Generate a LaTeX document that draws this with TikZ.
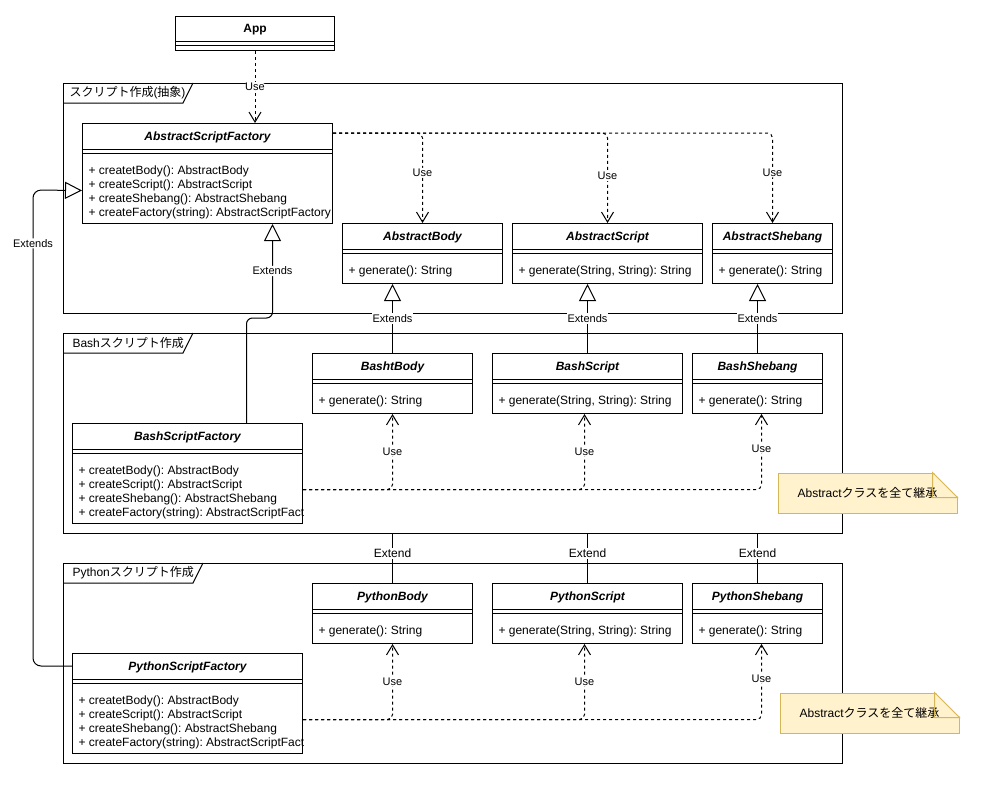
\documentclass[tikz,border=0pt]{standalone}
\usepackage{fontspec}
\setmainfont{Liberation Sans}
\newfontfamily\jpfont{Noto Sans CJK JP}
\frenchspacing
\usetikzlibrary{arrows.meta}

\definecolor{notefill}{HTML}{FFF2CC}
\definecolor{noteline}{HTML}{D6B656}

% class box: name, x, y, width, height, title, members
\newcommand{\umlclass}[7]{%
  \node[cls, minimum width=#4pt, minimum height=#5pt, anchor=north west] (#1) at (#2,#3) {};
  \node[clsname] (#1-name) at ([yshift=-17pt]#1.north) {#6};
  \draw ([yshift=-26pt]#1.north west) -- ([yshift=-26pt]#1.north east);
  \draw ([yshift=-30pt]#1.north west) -- ([yshift=-30pt]#1.north east);
  \begin{scope}
    \clip (#1.north west) rectangle (#1.south east);
    \node[members] (#1-ops) at ([xshift=6pt,yshift=-41pt]#1.north west) {\rule{0pt}{10pt}#7};
  \end{scope}
}

\begin{document}
\begin{tikzpicture}[x=1pt, y=-1pt, line width=1pt,
  cls/.style={draw, fill=white, inner sep=0pt},
  clsname/.style={anchor=base, inner sep=0pt, font=\fontsize{12}{14}\selectfont\bfseries\itshape},
  members/.style={anchor=north west, inner sep=0pt, align=left, font=\fontsize{12}{14}\selectfont},
  frame/.style={draw, inner sep=0pt, anchor=north west},
  tab/.style={anchor=west, inner sep=0pt, font=\fontsize{12}{14}\selectfont},
  lbl/.style={fill=white, inner sep=1pt, font=\fontsize{11}{13}\selectfont},
  lblb/.style={fill=white, inner sep=1pt, font=\fontsize{12}{14}\selectfont},
  use/.style={dash pattern=on 3pt off 3pt, rounded corners=5pt, -{Straight Barb[length=10pt,width=12pt]}},
  ext/.style={-{Triangle[length=17pt,width=17pt,fill=white]}},
  note/.style={draw=noteline, fill=notefill, inner sep=0pt, font=\fontsize{12}{14}\selectfont}]
  \useasboundingbox (0,0) rectangle (987,784);

  % frames
  \node[frame, minimum width=779pt, minimum height=230pt] (fabs) at (63,83) {};
  \draw ([yshift=-20pt]fabs.north west) -- ++(120,0) -- ++(10,-20);
  \node[tab] (fabs-tab) at ([xshift=6pt,yshift=-10pt]fabs.north west) {{\jpfont スクリプト作成}({\jpfont 抽象})};
  \node[frame, minimum width=779pt, minimum height=200pt] (fbash) at (63,333) {};
  \draw ([yshift=-20pt]fbash.north west) -- ++(120,0) -- ++(10,-20);
  \node[tab] (fbash-tab) at ([xshift=9pt,yshift=-10pt]fbash.north west) {Bash{\jpfont スクリプト作成}};
  \node[frame, minimum width=779pt, minimum height=200pt] (fpy) at (63,563) {};
  \draw ([yshift=-20pt]fpy.north west) -- ++(130,0) -- ++(10,-20);
  \node[tab] (fpy-tab) at ([xshift=9pt,yshift=-10pt]fpy.north west) {Python{\jpfont スクリプト作成}};

  % classes
  \umlclass{app}{175}{16}{159}{34}{\upshape App}{}
  \umlclass{asf}{82}{123}{250}{100}{AbstractScriptFactory}{+ createtBody(): AbstractBody\\+ createScript(): AbstractScript\\+ createShebang(): AbstractShebang\\+ createFactory(string): AbstractScriptFactory}
  \umlclass{abody}{342}{223}{160}{60}{AbstractBody}{+ generate(): String}
  \umlclass{ascript}{512}{223}{190}{60}{AbstractScript}{+ generate(String, String): String}
  \umlclass{ashebang}{712}{223}{120}{60}{AbstractShebang}{+ generate(): String}
  \umlclass{bsf}{72}{423}{230}{100}{BashScriptFactory}{+ createtBody(): AbstractBody\\+ createScript(): AbstractScript\\+ createShebang(): AbstractShebang\\+ createFactory(string): AbstractScriptFactory}
  \umlclass{bbody}{312}{353}{160}{60}{BashtBody}{+ generate(): String}
  \umlclass{bscript}{492}{353}{190}{60}{BashScript}{+ generate(String, String): String}
  \umlclass{bshebang}{692}{353}{130}{60}{BashShebang}{+ generate(): String}
  \umlclass{psf}{72}{653}{230}{100}{PythonScriptFactory}{+ createtBody(): AbstractBody\\+ createScript(): AbstractScript\\+ createShebang(): AbstractShebang\\+ createFactory(string): AbstractScriptFactory}
  \umlclass{pbody}{312}{583}{160}{60}{PythonBody}{+ generate(): String}
  \umlclass{pscript}{492}{583}{190}{60}{PythonScript}{+ generate(String, String): String}
  \umlclass{pshebang}{692}{583}{130}{60}{PythonShebang}{+ generate(): String}

  % notes
  \node[note, minimum width=179pt, minimum height=40pt] (note1) at (867.5,493) {Abstract{\jpfont クラスを全て継承}};
  \fill[white] ([xshift=-25pt,yshift=1pt]note1.north east) -- ([xshift=1pt,yshift=1pt]note1.north east) -- ([xshift=1pt,yshift=-25pt]note1.north east) -- cycle;
  \draw[noteline] ([xshift=-25pt]note1.north east) -- ([yshift=-25pt]note1.north east) -- ++(-25,0) -- cycle;
  \node[note, minimum width=179pt, minimum height=40pt] (note2) at (869.5,713) {Abstract{\jpfont クラスを全て継承}};
  \fill[white] ([xshift=-25pt,yshift=1pt]note2.north east) -- ([xshift=1pt,yshift=1pt]note2.north east) -- ([xshift=1pt,yshift=-25pt]note2.north east) -- cycle;
  \draw[noteline] ([xshift=-25pt]note2.north east) -- ([yshift=-25pt]note2.north east) -- ++(-25,0) -- cycle;

  % use
  \draw[use] (app.south) -- node[lbl] (u-app) {Use} (app.south |- asf.north);
  \draw[use] ([yshift=-10pt]asf.north east) -| node[lbl, pos=0.72] (u-ab) {Use} (abody.north);
  \draw[use] ([yshift=-10pt]asf.north east) -| node[lbl, pos=0.74] (u-as) {Use} (ascript.north);
  \draw[use] ([yshift=-10pt]asf.north east) -| node[lbl, pos=0.72] (u-ash) {Use} (ashebang.north);
  \draw[use] ([yshift=-16pt]bsf.east) -| node[lbl, pos=0.75] (u-bb) {Use} (bbody.south);
  \draw[use] ([yshift=-16pt]bsf.east) -| node[lbl, pos=0.75] (u-bs) {Use} ([xshift=-3pt]bscript.south);
  \draw[use] ([yshift=-16pt]bsf.east) -| node[lbl, pos=0.77] (u-bsh) {Use} ([xshift=4pt]bshebang.south);
  \draw[use] ([yshift=-16pt]psf.east) -| node[lbl, pos=0.75] (u-pb) {Use} (pbody.south);
  \draw[use] ([yshift=-16pt]psf.east) -| node[lbl, pos=0.75] (u-ps) {Use} ([xshift=-3pt]pscript.south);
  \draw[use] ([yshift=-16pt]psf.east) -| node[lbl, pos=0.77] (u-psh) {Use} ([xshift=4pt]pshebang.south);

  % extends
  \draw[ext, rounded corners=6pt] ([xshift=59pt]bsf.north) -- ++(0,-105) -| node[lbl, pos=0.75] (e-bsf) {Extends} ([xshift=65pt]asf.south);
  \draw[ext, rounded corners=8pt] ([yshift=-13pt]psf.north west) -| (33,190) node[lbl, pos=0.944] (e-psf) {Extends} -- ([yshift=-17pt]asf.west);
  \draw[ext] (bbody.north) -- node[lbl] (e-bb) {Extends} (bbody.north |- abody.south);
  \draw[ext] (bscript.north) -- node[lbl] (e-bs) {Extends} (bscript.north |- ascript.south);
  \draw[ext] (bshebang.north) -- node[lbl] (e-bsh) {Extends} (bshebang.north |- ashebang.south);
  \draw (pbody.north) -- (pbody.north |- fbash.south) node[lblb, pos=0.6] (e-pb) {Extend};
  \draw (pscript.north) -- (pscript.north |- fbash.south) node[lblb, pos=0.6] (e-ps) {Extend};
  \draw (pshebang.north) -- (pshebang.north |- fbash.south) node[lblb, pos=0.6] (e-psh) {Extend};
\end{tikzpicture}
\end{document}
